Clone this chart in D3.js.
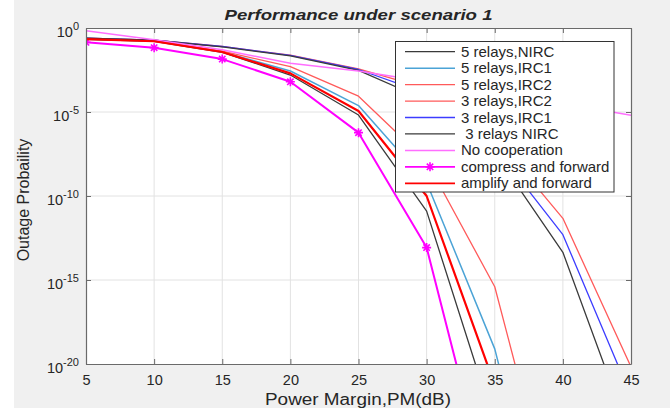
<!DOCTYPE html>
<html>
<head>
<meta charset="utf-8">
<script src="https://cdn.jsdelivr.net/npm/d3@7"></script>
<style>
  html, body { margin: 0; padding: 0; background: #f0f0f0; }
  svg { display: block; }
  text { font-family: "Liberation Sans", Arial, sans-serif; fill: #262626; }
</style>
</head>
<body>
<svg id="chart" width="670" height="408"></svg>
<script>
// ---------------- data (log10 of outage probability) ----------------
const pm = [5, 10, 15, 20, 25, 30, 35, 40, 45];
const relays5NIRC = [-0.67, -0.80, -1.45, -2.80, -5.18, -10.90, -23.60, null, null];
const relays5IRC1 = [-0.65, -0.78, -1.42, -2.56, -4.62, -9.20, -19.10, -35.0, null];
const relays5IRC2 = [-0.64, -0.76, -1.38, -2.30, -4.06, -7.93, -15.40, -30.9, null];
const relays3IRC2 = [-0.60, -0.72, -1.10, -1.62, -2.44, -3.60, -6.46, -11.33, -20.17];
const relays3IRC1 = [-0.60, -0.72, -1.10, -1.63, -2.47, -3.90, -7.10, -12.30, -21.90];
const relays3NIRC = [-0.60, -0.73, -1.12, -1.66, -2.52, -4.30, -7.43, -13.35, -24.40];
const noCoop      = [-0.16, -0.70, -1.30, -2.10, -2.56, -3.20, -3.85, -4.50, -5.20];
const compressFwd = [-0.85, -1.17, -1.85, -3.20, -6.23, -13.07, -28.96, null, null];
const amplifyFwd  = [-0.66, -0.79, -1.43, -2.70, -4.94, -10.00, -21.25, null, null];

const xTicks = [5, 10, 15, 20, 25, 30, 35, 40, 45];
const yTickExp = [0, -5, -10, -15, -20];

const seriesNames = ["5 relays,NIRC", "5 relays,IRC1", "5 relays,IRC2", "3 relays,IRC2",
                     "3 relays,IRC1", " 3 relays NIRC", "No cooperation",
                     "compress and forward", "amplify and forward"];
const seriesValues = [relays5NIRC, relays5IRC1, relays5IRC2, relays3IRC2, relays3IRC1,
                      relays3NIRC, noCoop, compressFwd, amplifyFwd];
const seriesColors = ["#3a3a3a", "#4ba3d6", "#ff5a5a", "#ff5a5a", "#3c3cff",
                      "#3a3a3a", "#ff6eff", "#ff00ff", "#ff0000"];
const seriesWidths = [1.3, 1.5, 1.3, 1.3, 1.3, 1.3, 1.5, 2.0, 2.2];
const seriesMarker = [false, false, false, false, false, false, false, true, false];

// ---------------- layout ----------------
const svg = d3.select("#chart");
const L = 86, R = 631, T = 28, B = 364;
const x = d3.scaleLinear().domain([5, 45]).range([L, R]);
const y = d3.scaleLog().domain([1e-20, 1]).range([B, T]);

svg.append("rect").attr("x", 0).attr("y", 0).attr("width", 670).attr("height", 408).attr("fill", "#f0f0f0");
svg.append("rect").attr("x", 0).attr("y", 0).attr("width", 14).attr("height", 408).attr("fill", "#ffffff");
svg.append("rect").attr("x", L).attr("y", T).attr("width", R - L).attr("height", B - T).attr("fill", "#ffffff");

svg.append("defs").append("clipPath").attr("id", "clip")
  .append("rect").attr("x", L).attr("y", T).attr("width", R - L).attr("height", B - T);

// grid
const grid = svg.append("g").attr("stroke", "#e2e2e2").attr("stroke-width", 1);
xTicks.slice(1, -1).forEach(v => grid.append("line")
  .attr("x1", x(v)).attr("x2", x(v)).attr("y1", T).attr("y2", B));
yTickExp.slice(1, -1).forEach(e => grid.append("line")
  .attr("x1", L).attr("x2", R).attr("y1", y(Math.pow(10, e))).attr("y2", y(Math.pow(10, e))));

// series
const line = d3.line()
  .defined(d => d.v !== null)
  .x(d => x(d.x))
  .y(d => y(Math.pow(10, d.v)));

function starPath(r) {
  const a = r * 0.7071;
  return `M${-r},0L${r},0M0,${-r}L0,${r}M${-a},${-a}L${a},${a}M${-a},${a}L${a},${-a}`;
}

const plot = svg.append("g").attr("clip-path", "url(#clip)");
seriesValues.forEach((vals, i) => {
  const pts = pm.map((p, k) => ({ x: p, v: vals[k] }));
  plot.append("path").datum(pts)
    .attr("d", line)
    .attr("fill", "none")
    .attr("stroke", seriesColors[i])
    .attr("stroke-width", seriesWidths[i])
    .attr("stroke-linejoin", "round");
  if (seriesMarker[i]) {
    pts.filter(d => d.v !== null && d.v >= -20).forEach(d => {
      plot.append("path")
        .attr("d", starPath(4.5))
        .attr("transform", `translate(${x(d.x)},${y(Math.pow(10, d.v))})`)
        .attr("stroke", seriesColors[i]).attr("stroke-width", 1.6).attr("fill", "none");
    });
  }
});

// axes
const axisColor = "#6a6a6a";
function styleAxis(g) {
  g.select(".domain").attr("stroke", axisColor).attr("stroke-width", 1.2);
  g.selectAll(".tick line").attr("stroke", axisColor);
}
const gx = svg.append("g").attr("transform", `translate(0,${B})`)
  .call(d3.axisBottom(x).tickValues(xTicks).tickSize(-5).tickSizeOuter(0).tickPadding(10.5).tickFormat(d => d));
styleAxis(gx);
gx.selectAll("text").attr("font-size", 14.5).attr("font-family", null).attr("fill", "#262626");

const gxt = svg.append("g").attr("transform", `translate(0,${T})`)
  .call(d3.axisTop(x).tickValues(xTicks).tickSize(-5).tickSizeOuter(0).tickFormat(""));
styleAxis(gxt);

const yTickVals = yTickExp.map(e => Math.pow(10, e));
const gy = svg.append("g").attr("transform", `translate(${L},0)`)
  .call(d3.axisLeft(y).tickValues(yTickVals).tickSize(-5).tickSizeOuter(0).tickFormat(""));
styleAxis(gy);
const gyr = svg.append("g").attr("transform", `translate(${R},0)`)
  .call(d3.axisRight(y).tickValues(yTickVals).tickSize(-5).tickSizeOuter(0).tickFormat(""));
styleAxis(gyr);

// y tick labels with superscript
yTickExp.forEach(e => {
  const t = svg.append("text")
    .attr("x", 79).attr("y", y(Math.pow(10, e)) + 8.5)
    .attr("text-anchor", "end").attr("font-size", 14.5);
  t.append("tspan").text("10");
  t.append("tspan").attr("font-size", 11).attr("dy", -6.5).text(String(e).replace("-", "-"));
});

// title and labels
svg.append("text").attr("x", 358.5).attr("y", 20).attr("text-anchor", "middle")
  .attr("font-size", 15.5).attr("font-weight", "bold").attr("font-style", "italic")
  .attr("fill", "#111").attr("textLength", 268).attr("lengthAdjust", "spacingAndGlyphs")
  .text("Performance under scenario 1");
svg.append("text").attr("x", 358).attr("y", 405).attr("text-anchor", "middle")
  .attr("font-size", 16).attr("textLength", 186).attr("lengthAdjust", "spacingAndGlyphs")
  .text("Power Margin,PM(dB)");
svg.append("text").attr("transform", "translate(29,200) rotate(-90)").attr("text-anchor", "middle")
  .attr("font-size", 16).text("Outage Probaility");

// legend
const lg = svg.append("g");
lg.append("rect").attr("x", 395.5).attr("y", 41.5).attr("width", 218.5).attr("height", 150.5)
  .attr("fill", "#ffffff").attr("stroke", "#333").attr("stroke-width", 1);
seriesNames.forEach((name, i) => {
  const ry = 51.7 + i * 16.45;
  lg.append("line").attr("x1", 405).attr("x2", 455).attr("y1", ry).attr("y2", ry)
    .attr("stroke", seriesColors[i]).attr("stroke-width", Math.min(seriesWidths[i], 1.8));
  if (seriesMarker[i]) {
    lg.append("path").attr("d", starPath(4.5)).attr("transform", `translate(430,${ry})`)
      .attr("stroke", seriesColors[i]).attr("stroke-width", 1.6).attr("fill", "none");
  }
  lg.append("text").attr("x", 461).attr("y", ry + 5).attr("font-size", 15)
    .style("white-space", "pre").text(name);
});
</script>
</body>
</html>
